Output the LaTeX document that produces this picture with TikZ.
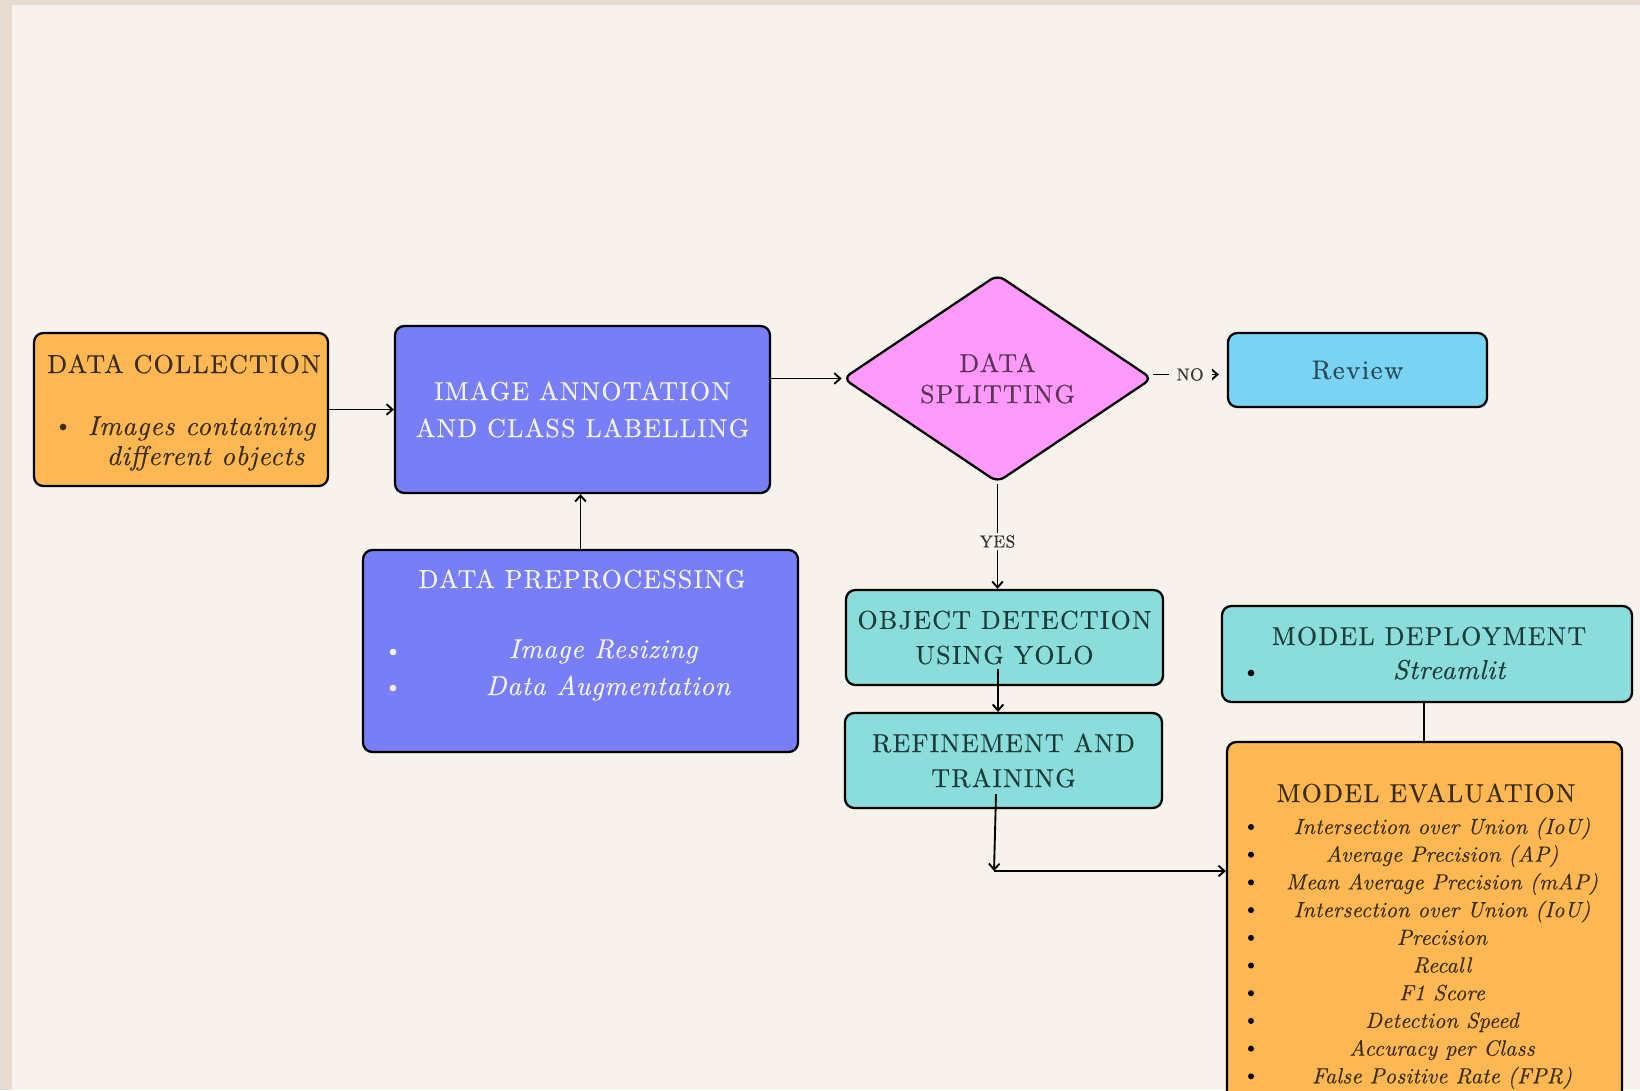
\documentclass[tikz,border=0pt]{standalone}
\usepackage{fontspec}
\usetikzlibrary{arrows.meta,shapes.geometric}
\newfontfamily\lmtitle{lmroman10-regular.otf}[LetterSpace=4.8,FakeBold=0.3]
\newfontfamily\lmital{lmroman10-italic.otf}[LetterSpace=2.6,FakeBold=0.3]
\newfontfamily\lmsmit{lmroman10-italic.otf}[LetterSpace=1.0,FakeBold=0.3]
\newfontfamily\lmlab{lmroman10-regular.otf}[LetterSpace=3,FakeBold=0.5]
\newfontfamily\lmrev{lmroman10-regular.otf}[LetterSpace=5.7,FakeBold=0.3]
\definecolor{bgc}{HTML}{F7F2EB}
\definecolor{bandc}{HTML}{E6DCD1}
\definecolor{orangeF}{HTML}{FDB853}
\definecolor{violetF}{HTML}{787EF5}
\definecolor{pinkF}{HTML}{FF99FB}
\definecolor{skyF}{HTML}{79D4F4}
\definecolor{tealF}{HTML}{8ADDDA}
\definecolor{brownT}{HTML}{3A2C12}
\definecolor{tealT}{HTML}{1D3B3B}
\definecolor{pinkT}{HTML}{5A3557}
\definecolor{skyT}{HTML}{2C4A5A}
\definecolor{whiteT}{HTML}{F4F4FF}
\definecolor{labc}{HTML}{333333}
\newcommand\mytitlefont{\lmtitle\fontsize{19.5}{23}\selectfont}
\newcommand\mytwoline[1]{\lmtitle\fontsize{19.5}{#1}\selectfont}
\newcommand\myitfont{\lmital\fontsize{20.5}{23}\selectfont}
\newcommand\mysmallit{\lmsmit\fontsize{16.5}{19}\selectfont}
\begin{document}
\begin{tikzpicture}[x=0.75pt,y=-0.75pt,
  box/.style={draw=black, line width=1.7pt, rounded corners=7pt, inner sep=0pt, align=center},
  arr/.style={line width=1.4pt, -{Straight Barb[length=4.5pt,width=8pt,line width=1.4pt]}},
  ln/.style={line width=1.4pt},
  lbl/.style={fill=bgc, font=\lmlab\fontsize{13}{13}\selectfont, text=labc, inner xsep=6pt, inner ysep=2pt},
  bul/.style={circle, inner sep=0pt, minimum size=5pt},
  txt/.style={anchor=base, inner sep=0pt},
]
\clip (0,0) rectangle (1640,1090);
\fill[bandc] (0,0) rectangle (1640,1090);
\fill[bgc] (12,5) rectangle (1640,1090);

% boxes
\node[box, fill=orangeF, minimum width=220.5pt, minimum height=114.75pt] (DC) at (181,409.5) {};
\node[box, fill=violetF, minimum width=281.25pt, minimum height=125.25pt,
      font=\mytwoline{27.75}, text=whiteT] (IA) at (582.5,409.5)
      {IMAGE ANNOTATION\\AND CLASS LABELLING};
\node[box, fill=violetF, minimum width=326.25pt, minimum height=151.5pt] (DP) at (580.5,651) {};
\node[draw=black, diamond, fill=pinkF, line width=1.7pt, rounded corners=6pt,
      minimum width=232pt, minimum height=156pt, inner sep=0pt, align=center,
      font=\mytwoline{23.25}, text=pinkT] (DS) at (997.5,378.5) {DATA\\SPLITTING};
\node[box, fill=skyF, minimum width=194.25pt, minimum height=55.5pt,
      font=\lmrev\fontsize{20}{24}\selectfont, text=skyT] (RV) at (1357.5,370) {Review};
\node[box, fill=tealF, minimum width=237.75pt, minimum height=71.25pt,
      font=\mytwoline{26.25}, text=tealT] (OD) at (1004.5,637.5)
      {OBJECT DETECTION\\USING YOLO};
\node[box, fill=tealF, minimum width=237.75pt, minimum height=71.25pt,
      font=\mytwoline{26.25}, text=tealT] (RT) at (1003.5,760.5)
      {REFINEMENT AND\\TRAINING};
\node[box, fill=tealF, minimum width=307.5pt, minimum height=72pt] (MD) at (1427,654) {};
\node[box, fill=orangeF, minimum width=296.25pt, minimum height=283.5pt] (ME) at (1424.5,931) {};

% texts: data collection
\node[txt, font=\mytitlefont, text=brownT] (DCt) at (184,373) {DATA COLLECTION};
\node[bul, fill=brownT] (DCb) at (63,427) {};
\node[txt, font=\myitfont, text=brownT] (DCi1) at (201.5,435) {Images containing};
\node[txt, font=\myitfont, text=brownT] (DCi2) at (205.5,465) {different objects};

% texts: data preprocessing
\node[txt, font=\mytitlefont, text=whiteT] (DPt) at (582,588) {DATA PREPROCESSING};
\node[bul, fill=whiteT] (DPb1) at (393,652) {};
\node[bul, fill=whiteT] (DPb2) at (393,688) {};
\node[txt, font=\myitfont, text=whiteT] (DPi1) at (603,658) {Image Resizing};
\node[txt, font=\myitfont, text=whiteT] (DPi2) at (608,695) {Data Augmentation};

% texts: model deployment
\node[txt, font=\mytitlefont, text=tealT] (MDt) at (1429,645) {MODEL DEPLOYMENT};
\node[bul, fill=black] (MDb) at (1251,673) {};
\node[txt, font=\myitfont, text=tealT] (MDi) at (1449,679) {Streamlit};

% texts: model evaluation
\node[txt, font=\mytitlefont, text=brownT] (MEt) at (1426,802) {MODEL EVALUATION};
\foreach \t [count=\i] in {Intersection over Union (IoU), Average Precision (AP),
   Mean Average Precision (mAP), Intersection over Union (IoU), Precision, Recall,
   F1 Score, Detection Speed, Accuracy per Class, False Positive Rate (FPR)} {
  \node[txt, font=\mysmallit, text=brownT] (MEi\i) at (1442,{834+27.7*(\i-1)}) {\t};
  \node[bul, fill=black, minimum size=4.5pt] (MEb\i) at (1251,{827+27.7*(\i-1)}) {};
}

% connectors
\draw[arr] (DC.east) -- (IA.west);
\draw[arr] (IA.east |- DS.west) -- (DS.west);
\draw[arr] (DP.north) -- (DP.north |- IA.south);
\path ([yshift=3pt]DS.east) coordinate (dsr);
\draw[arr, shorten >=6pt] (dsr) -- node[lbl]{NO} (dsr -| RV.west);
\draw[arr] (DS.south) -- node[lbl, pos=0.55]{YES} (DS.south |- OD.north);
\path (DS.south |- OD.south) ++(0.5,-17) coordinate (odout);
\draw[arr] (odout) -- (odout |- RT.north);
\path (DS.south |- RT.south) ++(-1.5,-15) coordinate (rtout);
\coordinate (corner) at (994,871);
\draw[arr] (rtout) -- (corner);
\draw[arr] (corner) -- (corner -| ME.west);
\draw[ln] ([xshift=-2pt]MD.south) -- ([xshift=-2pt]MD.south |- ME.north);
\end{tikzpicture}
\end{document}
